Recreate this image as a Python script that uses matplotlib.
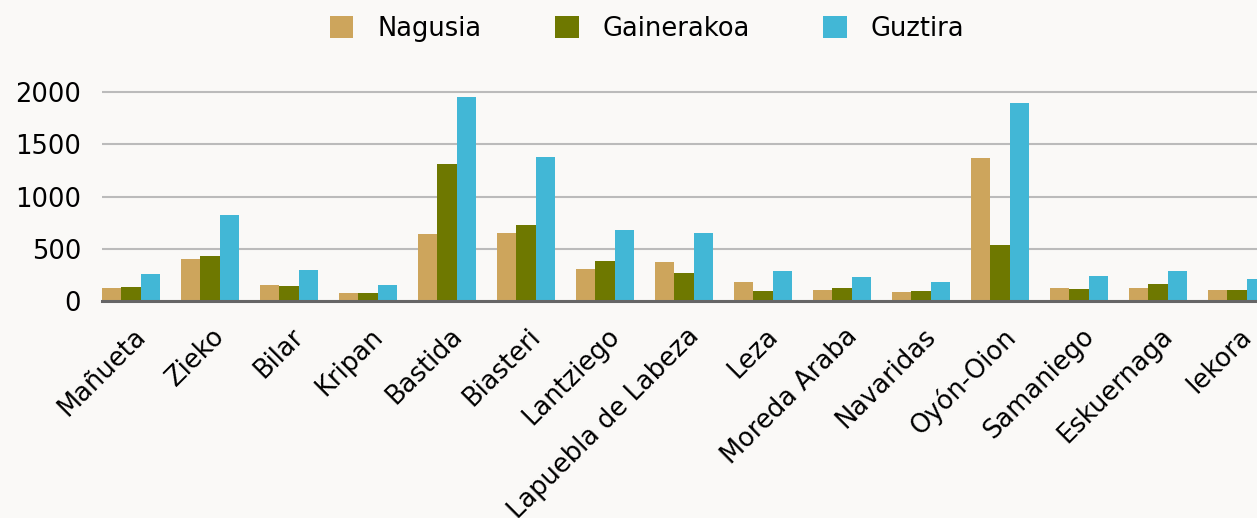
import matplotlib
matplotlib.use("Agg")
import matplotlib.pyplot as plt
import matplotlib.transforms as mtransforms
from matplotlib.patches import Patch
import numpy as np

plt.rcParams["font.family"] = ["DejaVu Sans"]

# values
towns = ["Mañueta", "Zieko", "Bilar", "Kripan", "Bastida", "Biasteri", "Lantziego",
         "Lapuebla de Labeza", "Leza", "Moreda Araba", "Navaridas", "Oyón-Oion",
         "Samaniego", "Eskuernaga", "Iekora"]
nagusia = [125, 403, 153, 77, 642, 652, 307, 374, 182, 105, 86, 1371, 125, 125, 105]
gainerakoa = [134, 431, 144, 77, 1313, 728, 383, 268, 96, 125, 96, 537, 115, 163, 105]
guztira = [259, 824, 297, 153, 1955, 1380, 680, 652, 288, 230, 182, 1898, 240, 288, 211]
y_ticks = [0, 500, 1000, 1500, 2000]

series_names = ["Nagusia", "Gainerakoa", "Guztira"]
colors = ["#cda55c", "#6e7800", "#42b7d6"]
BG = "#faf9f7"
FS = 18.5

W, H = 1257, 518
fig = plt.figure(figsize=(W / 100, H / 100), dpi=100, facecolor=BG)

# axes box in pixels
left_px, right_px = 102, 1257
zero_px, top_px = 301, 87.1
ax = fig.add_axes([left_px / W, 1 - zero_px / H,
                   (right_px - left_px) / W, (zero_px - top_px) / H])
ax.set_facecolor(BG)

x = np.arange(len(towns))
bw = 0.245
for i, (vals, name, c) in enumerate(zip([nagusia, gainerakoa, guztira], series_names, colors)):
    ax.bar(x + (i - 1) * bw, vals, width=bw, color=c, label=name, zorder=2)

spacing = 79.0
xmin = -29 / spacing
ax.set_xlim(xmin, xmin + (right_px - left_px) / spacing)
ax.set_ylim(0, 2050)

ax.set_yticks(y_ticks)
ax.set_yticklabels([str(v) for v in y_ticks], fontsize=FS)
ax.tick_params(axis="y", length=0, pad=15)
ax.grid(axis="y", color="#bbbbbb", linewidth=1.5)
ax.set_axisbelow(True)

for s in ["left", "right", "top"]:
    ax.spines[s].set_visible(False)
ax.spines["bottom"].set_color("#666666")
ax.spines["bottom"].set_linewidth(2.2)
ax.spines["bottom"].set_zorder(3)

ax.set_xticks(x)
ax.set_xticklabels(towns, fontsize=FS, rotation=45, ha="right", va="top",
                   rotation_mode="anchor")
ax.tick_params(axis="x", length=0, pad=16)
offset = mtransforms.ScaledTranslation(2 / 100, 0, fig.dpi_scale_trans)
for lab in ax.get_xticklabels():
    lab.set_transform(lab.get_transform() + offset)

handles = [Patch(facecolor=c, edgecolor="none") for c in colors]
fig.legend(handles, series_names, loc="center", bbox_to_anchor=(647 / W, 1 - 29 / H),
           ncol=3, frameon=False, fontsize=FS, handlelength=0.93, handleheight=0.9,
           handletextpad=0.93, columnspacing=2.85)

fig.savefig("out.png", dpi=100, facecolor=BG)
